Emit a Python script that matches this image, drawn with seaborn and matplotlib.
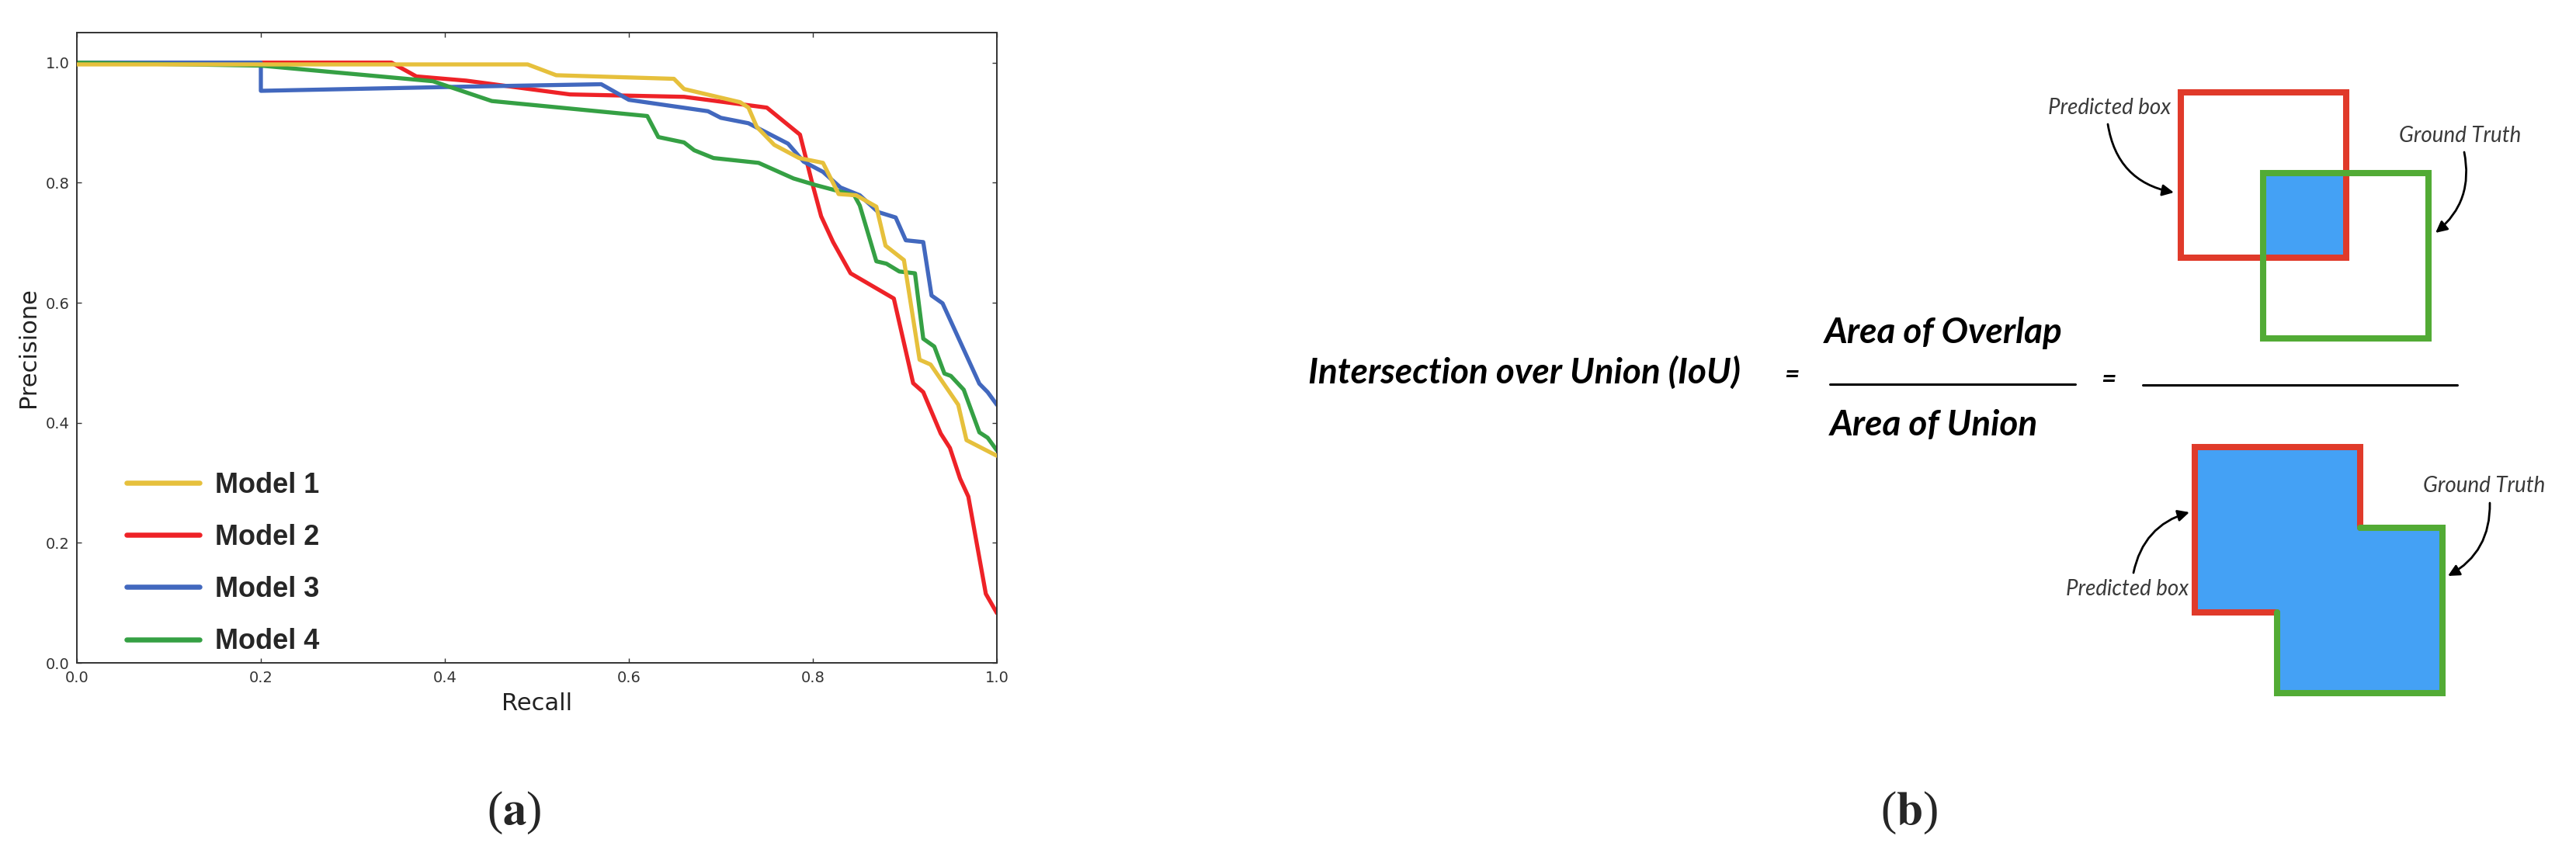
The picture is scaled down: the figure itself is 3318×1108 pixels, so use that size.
import matplotlib
matplotlib.use("Agg")
import matplotlib.pyplot as plt
import numpy as np
import pandas as pd
import seaborn as sns
from matplotlib.lines import Line2D
from matplotlib.patches import Rectangle, Polygon
from matplotlib.font_manager import FontProperties

# precision / recall curves
models = ["Model 1", "Model 2", "Model 3", "Model 4"]
colors = ["#E6C03C", "#EE2227", "#4268BE", "#35A044"]

recall_m1 = [0.0, 0.490, 0.521, 0.649, 0.660, 0.721, 0.730, 0.739, 0.758, 0.785, 0.811,
             0.828, 0.847, 0.869, 0.879, 0.899, 0.916, 0.928, 0.958, 0.967, 1.0]
prec_m1 = [0.997, 0.997, 0.979, 0.973, 0.956, 0.934, 0.925, 0.893, 0.863, 0.841, 0.833,
           0.781, 0.779, 0.760, 0.695, 0.671, 0.505, 0.497, 0.430, 0.371, 0.345]

recall_m2 = [0.0, 0.342, 0.369, 0.423, 0.536, 0.660, 0.750, 0.786, 0.799, 0.809, 0.822,
             0.841, 0.888, 0.909, 0.920, 0.939, 0.949, 0.960, 0.969, 0.988, 1.0]
prec_m2 = [1.0, 1.0, 0.977, 0.970, 0.947, 0.943, 0.925, 0.880, 0.801, 0.744, 0.701,
           0.649, 0.607, 0.466, 0.451, 0.382, 0.358, 0.307, 0.277, 0.115, 0.083]

recall_m3 = [0.0, 0.2, 0.2, 0.423, 0.570, 0.600, 0.686, 0.700, 0.730, 0.773, 0.790, 0.811,
             0.830, 0.851, 0.871, 0.890, 0.901, 0.920, 0.929, 0.941, 0.981, 0.990, 1.0]
prec_m3 = [1.0, 1.0, 0.953, 0.960, 0.964, 0.938, 0.919, 0.908, 0.899, 0.865, 0.835, 0.818,
           0.792, 0.779, 0.751, 0.742, 0.704, 0.701, 0.612, 0.599, 0.465, 0.451, 0.430]

recall_m4 = [0.0, 0.2, 0.387, 0.451, 0.620, 0.632, 0.660, 0.671, 0.692, 0.741, 0.779, 0.803,
             0.845, 0.851, 0.869, 0.880, 0.894, 0.911, 0.920, 0.932, 0.943, 0.950, 0.964,
             0.981, 0.990, 1.0]
prec_m4 = [1.0, 0.995, 0.969, 0.936, 0.911, 0.876, 0.867, 0.854, 0.841, 0.833, 0.807, 0.796,
           0.779, 0.762, 0.669, 0.665, 0.652, 0.649, 0.540, 0.527, 0.482, 0.478, 0.455,
           0.384, 0.375, 0.354]

recalls = [recall_m1, recall_m2, recall_m3, recall_m4]
precs = [prec_m1, prec_m2, prec_m3, prec_m4]

W, H = 3318, 1108

sns.set_theme(style="ticks")
plt.rcParams["font.family"] = ["DejaVu Sans"]
plt.rcParams["mathtext.fontset"] = "stix"

fig = plt.figure(figsize=(W / 100, H / 100), dpi=100)
fig.patch.set_facecolor("white")

# ---- panel (a): precision-recall curves
ax = fig.add_axes([99 / W, 1 - 854 / H, 1185 / W, 812 / H])

rows = []
for name, r, p in zip(models, recalls, precs):
    rows += [(name, x, y) for x, y in zip(r, p)]
df = pd.DataFrame(rows, columns=["Model", "Recall", "Precisione"])

sns.lineplot(data=df, x="Recall", y="Precisione", hue="Model", hue_order=models,
             palette=colors, estimator=None, sort=False, linewidth=3.8,
             legend=False, ax=ax)
# yellow curve sits on top of the others
ax.lines[0].set_zorder(3)

ax.set_xlim(0, 1)
ax.set_ylim(0, 1.05)
ticks = np.arange(0, 1.01, 0.2)
ax.set_xticks(ticks)
ax.set_yticks(ticks)
ax.set_xticklabels([f"{v:.1f}" for v in ticks])
ax.set_yticklabels([f"{v:.1f}" for v in ticks])
ax.tick_params(direction="in", top=True, right=True, length=4.5, width=1,
               labelsize=14, colors="#333333", pad=7)
for s in ax.spines.values():
    s.set_color("#333333")
    s.set_linewidth(1.4)

ax.set_xlabel("Recall", fontsize=22, color="#222222")
ax.set_ylabel("Precisione", fontsize=22, color="#222222")
ax.xaxis.set_label_coords(0.5, -0.065)
ax.xaxis.label.set_va("center")
ax.yaxis.set_label_coords(-0.053, 0.5)
ax.yaxis.label.set_va("center")

handles = [Line2D([0], [0], color=c, lw=4.7, solid_capstyle="round") for c in colors]
leg = ax.legend(handles, models, loc="lower left", bbox_to_anchor=(0.054, 0.012),
                frameon=False, borderaxespad=0, borderpad=0,
                prop=FontProperties(family=["Liberation Sans", "DejaVu Sans"],
                                    weight="bold", size=26),
                handlelength=2.6, handletextpad=0.55, labelspacing=0.89)

# ---- panel (b): IoU diagram, drawn in a pixel-unit overlay
dax = fig.add_axes([0, 0, 1, 1])
dax.set_xlim(0, W)
dax.set_ylim(H, 0)
dax.axis("off")
dax.patch.set_alpha(0)

red = "#E03A2A"
green = "#52AB35"
blue = "#44A1F5"
box = 213          # box side along the stroke centre line
shift = (106, 104)  # offset of the ground-truth box
edge = 5.8

# overlap sketch (top)
px, py = 2809, 119
gx, gy = px + shift[0], py + shift[1]
dax.add_patch(Rectangle((gx, gy), px + box - gx, py + box - gy, facecolor=blue, edgecolor="none"))
dax.add_patch(Rectangle((px, py), box, box, fill=False, edgecolor=red, lw=edge, joinstyle="miter"))
dax.add_patch(Rectangle((gx, gy), box, box, fill=False, edgecolor=green, lw=edge, joinstyle="miter"))

# union sketch (bottom)
ux, uy = 2827, 576
vx, vy = ux + shift[0], uy + shift[1]
union = [(ux, uy), (ux + box, uy), (ux + box, vy), (vx + box, vy), (vx + box, vy + box),
         (vx, vy + box), (vx, uy + box), (ux, uy + box)]
dax.add_patch(Polygon(union, closed=True, facecolor=blue, edgecolor="none"))
dax.plot([vx, ux, ux, ux + box, ux + box], [uy + box, uy + box, uy, uy, vy],
         color=red, lw=edge, solid_joinstyle="miter")
dax.plot([ux + box, vx + box, vx + box, vx, vx], [vy, vy, vy + box, vy + box, uy + box],
         color=green, lw=edge, solid_joinstyle="miter")

lab_font = dict(family=["Lato", "DejaVu Sans"], style="italic", weight="normal",
                size=20, color="#3a3a3a", ha="center", va="center")
arrow = dict(arrowstyle="-|>", color="black", lw=2, mutation_scale=22, shrinkA=0, shrinkB=0)

dax.text(2717, 139, "Predicted box", **lab_font)
dax.annotate("", xy=(2800, 248), xytext=(2715, 160),
             arrowprops=dict(connectionstyle="arc3,rad=0.35", **arrow))
dax.text(3169, 175, "Ground Truth", **lab_font)
dax.annotate("", xy=(3137, 300), xytext=(3174, 196),
             arrowprops=dict(connectionstyle="arc3,rad=-0.3", **arrow))

dax.text(3200, 626, "Ground Truth", **lab_font)
dax.annotate("", xy=(3153, 742), xytext=(3207, 648),
             arrowprops=dict(connectionstyle="arc3,rad=-0.3", **arrow))
dax.text(2740, 759, "Predicted box", **lab_font)
dax.annotate("", xy=(2820, 660), xytext=(2748, 738),
             arrowprops=dict(connectionstyle="arc3,rad=-0.3", **arrow))

eq_font = dict(family=["Lato", "DejaVu Sans"], style="italic", weight="bold",
               color="black", va="center")
dax.text(1685, 480, "Intersection over Union (IoU)", size=33, ha="left", **eq_font)
dax.text(2308, 484, "=", size=24, ha="center", **eq_font)
dax.text(2350, 429, "Area of Overlap", size=33, ha="left", **eq_font)
dax.text(2357, 548, "Area of Union", size=33, ha="left", **eq_font)
dax.plot([2357, 2673], [495, 495], color="black", lw=2.2)
dax.text(2716, 490, "=", size=24, ha="center", **eq_font)
dax.plot([2760, 3165], [496, 496], color="black", lw=2.2)

# ---- sub-figure captions
cap = dict(family=["Liberation Serif", "DejaVu Serif"], size=44, ha="center", va="center")
fig.text(662 / W, 1 - 1047 / H, r"($\mathbf{a}$)", **cap)
fig.text(2459 / W, 1 - 1047 / H, r"($\mathbf{b}$)", **cap)

fig.savefig("out.png", dpi=100, facecolor="white")
